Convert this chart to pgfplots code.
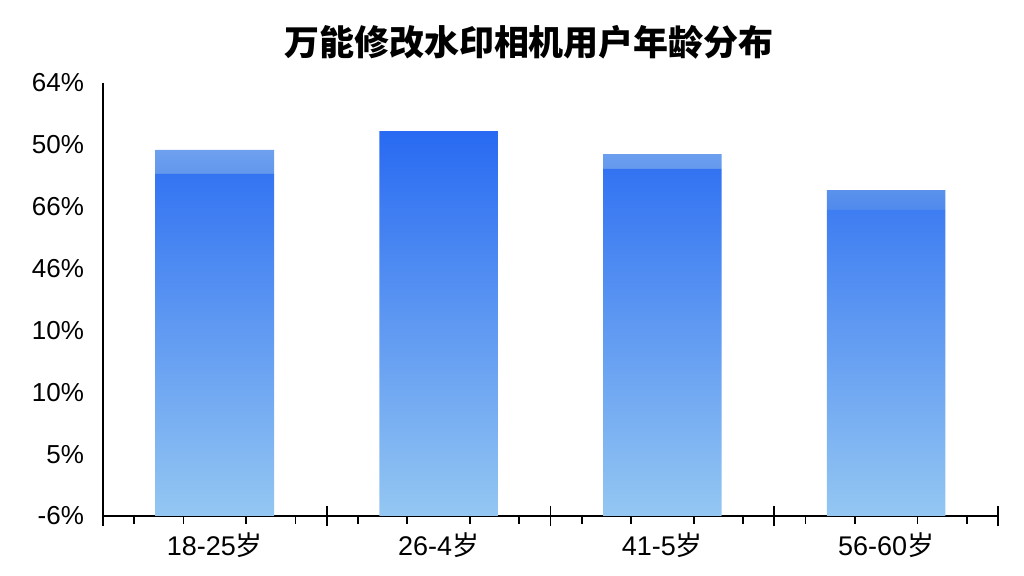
\documentclass[border=0pt]{standalone}
\usepackage{pgfplots}
\pgfplotsset{compat=1.18}
\usepackage{fontspec}
\setmainfont{Liberation Sans}
\newfontfamily\cjk{Noto Sans CJK SC}
\definecolor{bartop}{RGB}{40,106,242}
\definecolor{barbottom}{RGB}{148,199,242}
\definecolor{bandtop}{RGB}{110,160,238}
\definecolor{bandbottom}{RGB}{80,138,236}

% bar heights in tick-index units (the tick labels are not linear)
\pgfplotstableread{
x main band
0 5.53 0.39
1 6.22 0.00
2 5.61 0.24
3 4.95 0.32
}\agedata

\begin{document}
\begin{tikzpicture}
\useasboundingbox (-51.5pt,-30pt) rectangle (460.5pt,258pt);
\begin{axis}[
    scale only axis,
    width=447.5pt, height=216.5pt,
    at={(0,0)}, anchor=south west,
    axis x line=bottom, axis y line=left,
    axis line style={-, line width=0.9pt, black},
    xmin=-0.5, xmax=3.5,
    ymin=0, ymax=7,
    ybar stacked,
    bar width=0.53,
    xtick={-0.5,0.5,1.5,2.5,3.5},
    xticklabels={},
    minor xtick={-0.36,-0.14,0.14,0.36,0.64,0.86,1.14,1.36,1.64,1.86,2.14,2.36,2.64,2.86,3.14,3.36},
    xtick align=center,
    major tick length=10pt,
    minor tick length=4pt,
    every minor tick/.append style={yshift=-2pt},
    xtick style={black, line width=0.9pt},
    extra x ticks={0,1,2,3},
    extra x tick labels={18-25{\cjk 岁},26-4{\cjk 岁},41-5{\cjk 岁},56-60{\cjk 岁}},
    extra x tick style={major tick length=0pt, tick style={draw=none},
        ticklabel style={yshift=-5pt, font=\fontsize{13.5}{15}\selectfont}},
    ytick={0,...,7},
    yticklabels={-6\%,5\%,10\%,10\%,46\%,66\%,50\%,64\%},
    ytick style={draw=none},
    yticklabel style={xshift=-1pt},
    tick label style={font=\fontsize{13}{15}\selectfont},
    clip=false,
]
\addplot[draw=none, shading=axis, top color=bartop, bottom color=barbottom, shading angle=0]
    table[x=x, y=main] {\agedata};
\addplot[draw=none, top color=bandtop, bottom color=bandbottom]
    table[x=x, y=band] {\agedata};
\end{axis}
\node[font=\cjk\bfseries\fontsize{17.5}{19}\selectfont] at (213pt,237pt) {万能修改水印相机用户年龄分布};
\end{tikzpicture}
\end{document}
